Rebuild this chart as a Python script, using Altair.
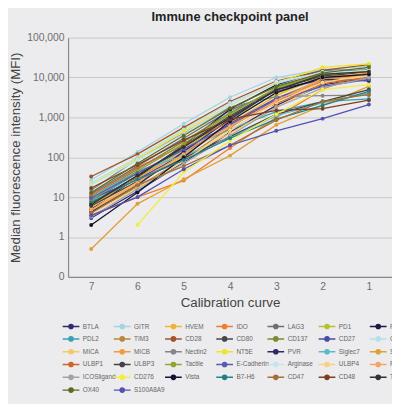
import altair as alt
import pandas as pd

series = ["BTLA", "GITR", "HVEM", "IDO", "LAG3", "PD1", "PDL1",
          "PDL2", "TIM3", "CD28", "CD80", "CD137", "CD27", "CTLA4",
          "MICA", "MICB", "Nectin2", "NT5E", "PVR", "Siglec7", "Siglec9",
          "ULBP1", "ULBP3", "Tactile", "E-Cadherin", "Arginase", "ULBP4", "Perforin",
          "ICOSligand", "CD276", "Vista", "B7-H6", "CD47", "CD48", "TIMD4",
          "OX40", "S100A8A9"]

colors = ["#2e2c6e", "#9fd6e2", "#f2b233", "#f07c2c", "#6b6f6e", "#b9c02c", "#1b1a44",
          "#3aa0b2", "#b8883c", "#a3532c", "#464848", "#7b8b32", "#4b4ba8", "#b4e2ea",
          "#f6c865", "#f7983a", "#858585", "#eee524", "#2b2b62", "#5bbac9", "#e0a033",
          "#d0642a", "#414343", "#93a234", "#5a5ab4", "#c3e5f0", "#f7d283", "#f8a465",
          "#a3a3a3", "#f0ee44", "#131333", "#21818b", "#a37134", "#7d3f1f", "#323232",
          "#5b6b22", "#5252b4"]

levels = ["7", "6", "5", "4", "3", "2", "1"]

level7 = [3.0, 27, 4.5, 3.5, 12, 6, 5, 8, 4, 33, 7, 10, 9, 23, 5.5, 6.5, 15, 21, 4.2, 10,
          0.5, 11, 6, 8.5, 9.5, 20, 3.8, 4.8, 3.2, None, 2.0, 7.5, 4, 17, 6.5, 13, 3.5]
level6 = [14, 135, 22, 10, 60, 30, 32, 40, 18, 120, 35, 50, 28, 100, 25, 30, 90, 90, 20, 45,
          6.8, 55, 25, 45, 40, 85, 17, 24, 16, 2.0, 13, 28, 20, 65, 35, 70, 10]
level5 = [75, 690, 110, 26, 300, 160, 200, 150, 90, 560, 190, 250, 120, 500, 100, 140, 400, 450, 140, 110,
          28, 200, 95, 220, 160, 380, 80, 120, 70, 42, 100, 85, 60, 270, 180, 350, 50]
level4 = [420, 3200, 700, 170, 1500, 900, 1600, 500, 550, 2500, 1100, 1300, 700, 2300, 400, 600, 1800, 2000, 900, 300,
          110, 800, 330, 1200, 650, 2000, 480, 600, 350, 260, 800, 300, 200, 900, 1000, 1700, 200]
level3 = [2000, 10000, 3500, 1000, 4500, 4000, 6500, 1400, 3000, 8100, 5000, 5200, 3000, 7000, 1800, 2500, 3300, 7500, 5000, 1100,
          650, 2200, 1200, 5600, 2700, 7800, 2400, 2600, 1800, 1200, 4200, 900, 850, 1500, 4800, 6000, 460]
level2 = [6500, 16000, 11000, 5000, 9000, 10000, 15000, 2500, 9000, 15000, 11000, 12000, 8000, 14000, 7000, 8500, 3500, 18000, 9000, 2300,
          2000, 7000, 2500, 12500, 6000, 13000, 7500, 9500, 5500, 5000, 10000, 2000, 2500, 1650, 12000, 13000, 930]
level1 = [10000, 19000, 17000, 15000, 12000, 14000, 15500, 2900, 13000, 21000, 13500, 16000, 9500, 17000, 11000, 12000, 3600, 22000, 8200, 4200,
          6000, 10000, 5000, 14500, 9000, 15000, 11500, 13500, 10000, 6600, 12000, 4500, 3800, 2700, 14000, 18000, 2100]

y_ticks = [0.1, 1, 10, 100, 1000, 10000, 100000]

rows = []
for lvl, vals in zip(levels, [level7, level6, level5, level4, level3, level2, level1]):
    for name, v in zip(series, vals):
        if v is not None:
            rows.append({"series": name, "level": lvl, "mfi": v, "order": series.index(name)})
df = pd.DataFrame(rows)

font = "Liberation Sans"
# legend glyph: a short line with a dot, wider than its 10px layout box
sym = "M-1.7,0H1.7M-0.42,0A0.42,0.42,0,1,1,0.42,0A0.42,0.42,0,1,1,-0.42,0Z"

chart = alt.Chart(df).mark_line(
    strokeWidth=1.3,
    point=alt.OverlayMarkDef(filled=True, size=16, opacity=1),
).encode(
    x=alt.X("level:N", sort=levels, title="Calibration curve",
            scale=alt.Scale(type="point", padding=0.5),
            axis=alt.Axis(labelAngle=0, ticks=False, grid=False, labelPadding=5,
                          titlePadding=4, labelFontSize=10.5, titleFontSize=13.5)),
    y=alt.Y("mfi:Q", title="Median fluorescence intensity (MFI)",
            scale=alt.Scale(type="log", domain=[0.1, 100000], nice=False),
            axis=alt.Axis(values=y_ticks, ticks=False, grid=True, labelPadding=4,
                          labelExpr="datum.value < 1 ? '0' : format(datum.value, ',')",
                          titlePadding=4, labelFontSize=10.5, titleFontSize=13.5)),
    color=alt.Color("series:N", sort=series,
                    scale=alt.Scale(domain=series, range=colors),
                    legend=alt.Legend(title=None, orient="none", legendX=-3, legendY=287,
                                      direction="horizontal", columns=7, gridAlign="all",
                                      columnPadding=-6, symbolLimit=0,
                                      rowPadding=1, symbolType=sym, symbolSize=100,
                                      symbolStrokeWidth=1.5, labelFontSize=6.5,
                                      labelOffset=6, labelColor="#666", labelFont=font,
                                      labelLimit=60)),
    order=alt.Order("order:Q"),
).properties(
    width=329,
    height=243,
    title=alt.TitleParams("Immune checkpoint panel", fontSize=13, font=font,
                          fontWeight=600, color="#222", offset=9, anchor="middle"),
    background="#ECECEE",
    autosize=alt.AutoSizeParams(type="none"),
    padding={"left": 61, "top": 27, "right": 0, "bottom": 126},
).configure_view(
    stroke=None
).configure_axis(
    labelFont=font, titleFont=font, labelColor="#6e6e6e", titleColor="#444",
    titleFontWeight="normal", gridColor="#c8c8c8", gridWidth=1,
    domainColor="#8a8a8a", domainWidth=1.2
)

chart.save("out.html", embed_options={"renderer": "svg", "actions": False})
